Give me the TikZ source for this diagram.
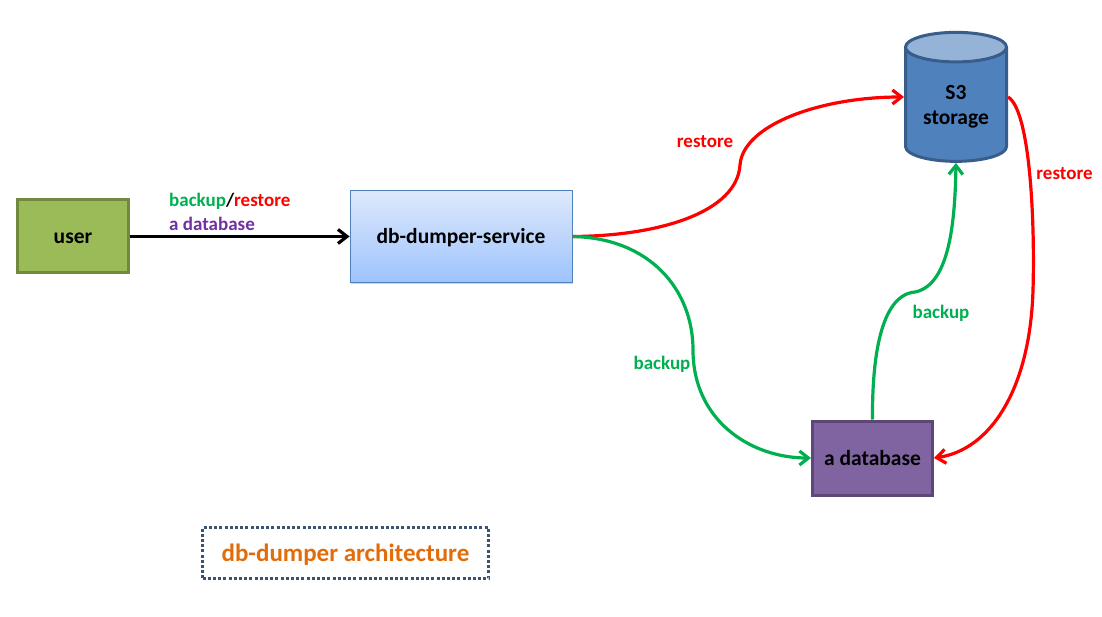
\documentclass[tikz,border=0pt]{standalone}
\usepackage{fontspec}
\setmainfont{Carlito}
\usetikzlibrary{arrows.meta,shapes.geometric,shadows}
\definecolor{backupgreen}{HTML}{00B050}
\definecolor{restorered}{HTML}{FF0000}
\definecolor{dbpurple}{HTML}{7030A0}
\definecolor{titleorange}{HTML}{E36C0A}
\definecolor{userfill}{HTML}{9BBB59}
\definecolor{userline}{HTML}{71893F}
\definecolor{servicetop}{HTML}{DEE9FC}
\definecolor{servicebottom}{HTML}{9EC3FC}
\definecolor{serviceline}{HTML}{4F81BD}
\definecolor{dbfill}{HTML}{8064A2}
\definecolor{dbline}{HTML}{5C4776}
\definecolor{s3top}{HTML}{95B3D7}
\definecolor{s3line}{HTML}{385D8A}
\definecolor{titleline}{HTML}{385470}
\begin{document}
\begin{tikzpicture}
    [x=1pt, y=-1pt, >={Straight Barb[length=9pt,width=14pt]},
    box/.style={draw, line width=3pt, inner sep=0pt, font=\fontsize{21.5}{25}\selectfont\bfseries},
    rectbox/.style={box, text height=15pt, text depth=0pt},
    lbl/.style={inner sep=0pt, font=\fontsize{19}{23}\selectfont\bfseries},
    link/.style={->, line width=3.2pt}]
    \useasboundingbox (0,0) rectangle (1102,617);
    \node[rectbox, fill=userfill, draw=userline, minimum width=111pt, minimum height=73pt] (user) at (73,236.5) {user};
    \node[rectbox, line width=0.8pt, draw=serviceline, top color=servicetop, bottom color=servicebottom, drop shadow={shadow xshift=0.5pt, shadow yshift=-2pt, opacity=0.35}, minimum width=222pt, minimum height=92pt] (service) at (461,236.5) {db-dumper-service};
    \node[rectbox, fill=dbfill, draw=dbline, minimum width=120pt, minimum height=74pt] (database) at (872.5,458) {a database};
    \node[box, cylinder, shape border rotate=90, aspect=0.45, cylinder uses custom fill, cylinder body fill=serviceline, cylinder end fill=s3top, draw=s3line, minimum width=101pt, minimum height=129pt, align=center] (s3) at (956,105) {\rule{0pt}{18pt}S3\\storage};
    \node[lbl, anchor=west] (action) at (169,201) {\textcolor{backupgreen}{backup}/\textcolor{restorered}{restore}};
    \node[lbl, anchor=west, text=dbpurple] (target) at (169,224) {a database};
    \node[lbl, text=restorered] (restoreleft) at (705,142) {restore};
    \node[lbl, text=restorered] (restoreright) at (1064.5,174) {restore};
    \node[lbl, text=backupgreen] (backupleft) at (662,364) {backup};
    \node[lbl, text=backupgreen] (backupright) at (941,313) {backup};
    \node[draw=titleline, line width=3pt, dash pattern=on 3pt off 2.2pt, minimum width=286pt, minimum height=51pt, text height=17pt, text depth=1pt, text=titleorange, font=\fontsize{25}{29}\selectfont\bfseries] (title) at (345.5,553) {db-dumper architecture};
    \draw[link] (user) -- (service);
    \draw[link, restorered] (service.east) .. controls (660,236) and (737,212) .. (740,165) .. controls (743,125) and (820,97) .. ([yshift=8pt]s3.west);
    \draw[link, backupgreen] (service.east) .. controls (650,238) and (693,290) .. (693,350) .. controls (693,420) and (750,458) .. (database.west);
    \draw[link, backupgreen] (database.north) .. controls (872,360) and (880,295) .. (915,292) .. controls (950,285) and (955,220) .. (s3.south);
    \draw[link, restorered] ([yshift=8pt]s3.east) .. controls (1030,110) and (1035,220) .. (1033,290) .. controls (1030,390) and (990,450) .. (database.east);
\end{tikzpicture}
\end{document}
